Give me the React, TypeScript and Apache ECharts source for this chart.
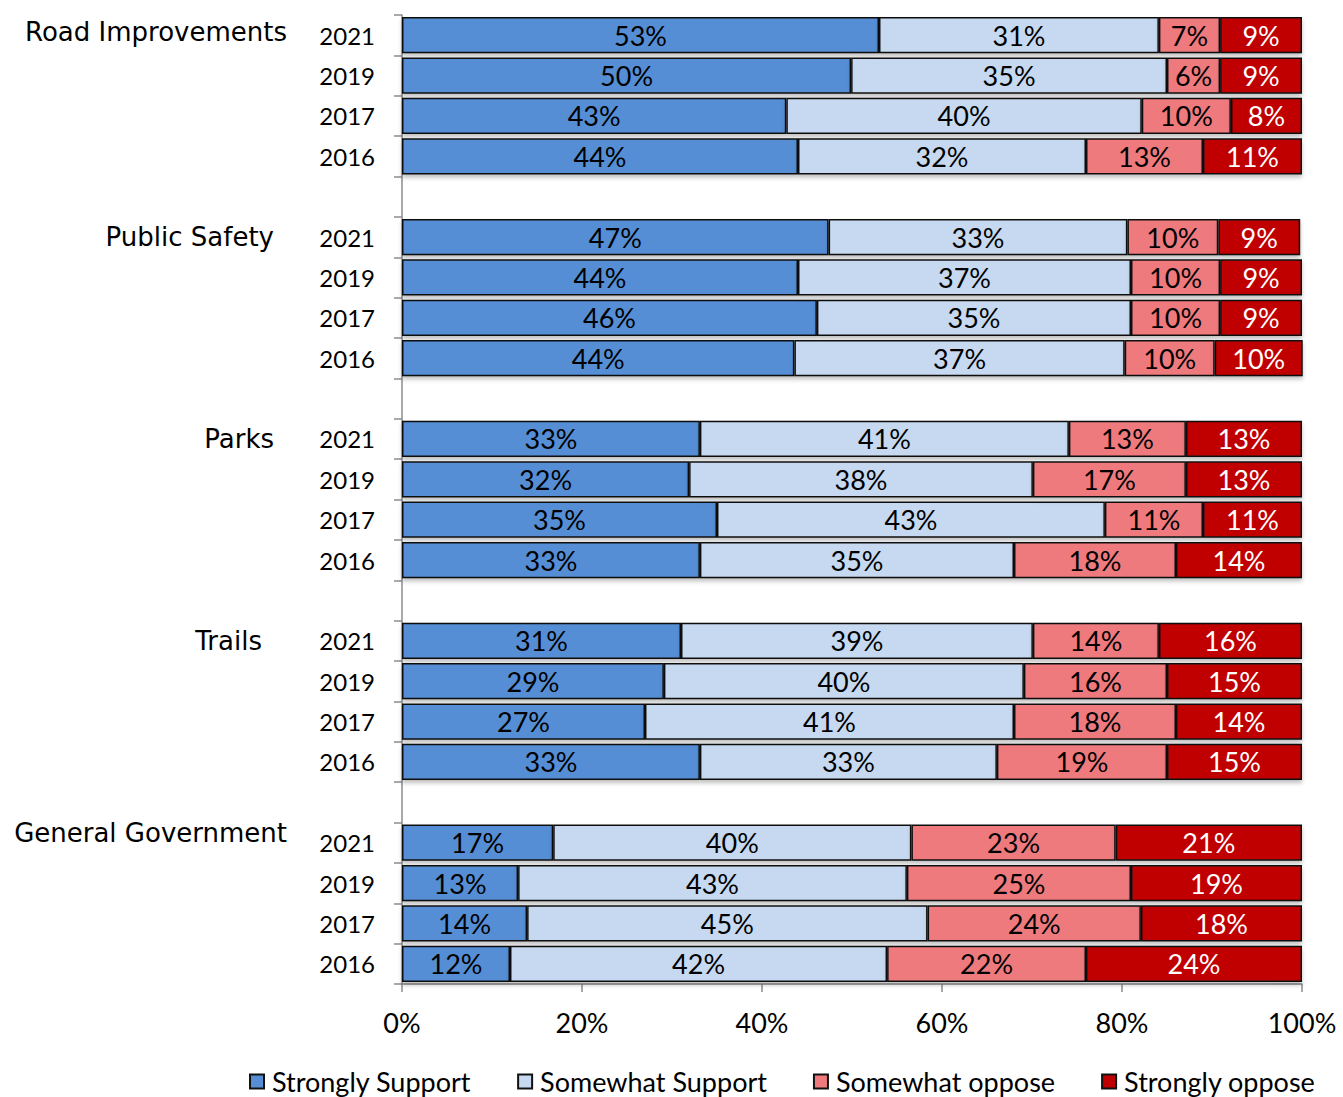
import React, { useEffect, useRef } from "react";
import * as echarts from "echarts";

const groups = ["Road Improvements", "Public Safety", "Parks", "Trails", "General Government"];
const years = ["2021", "2019", "2017", "2016"];
const seriesNames = ["Strongly Support", "Somewhat Support", "Somewhat oppose", "Strongly oppose"];

// values per group (2021, 2019, 2017, 2016)
const stronglySupport = [
  53.0, 49.9, 42.7, 44.0,
  47.4, 44.0, 46.1, 43.6,
  33.1, 31.9, 35.0, 33.1,
  31.0, 29.1, 27.0, 33.1,
  16.8, 12.9, 13.9, 12.0,
];
const somewhatSupport = [
  31.1, 35.1, 39.5, 32.0,
  33.2, 37.0, 34.9, 36.7,
  41.0, 38.2, 43.1, 34.9,
  39.1, 40.0, 41.0, 33.0,
  39.8, 43.2, 44.5, 41.9,
];
const somewhatOppose = [
  6.8, 5.9, 9.9, 13.0,
  10.1, 9.9, 9.9, 10.0,
  13.0, 17.0, 10.9, 18.0,
  14.0, 15.9, 18.0, 18.9,
  22.7, 24.9, 23.7, 22.1,
];
const stronglyOppose = [
  9.1, 9.1, 7.9, 11.0,
  9.1, 9.1, 9.1, 9.8,
  12.9, 12.9, 11.0, 14.0,
  15.9, 15.0, 14.0, 15.0,
  20.7, 19.0, 17.9, 24.0,
];
const xTicks = [0, 20, 40, 60, 80, 100];

const colors = ["#558ED5", "#C6D9F1", "#EE7A7E", "#C00000"];
const labelColors = ["#000000", "#000000", "#000000", "#FFFFFF"];

function buildCategories(): string[] {
  const out: string[] = [];
  groups.forEach((g, gi) => {
    if (gi > 0) out.push("gap" + gi);
    years.forEach((y) => out.push(g + "|" + y));
  });
  return out;
}

function withGaps(vals: number[]): (number | null)[] {
  const out: (number | null)[] = [];
  groups.forEach((_, gi) => {
    if (gi > 0) out.push(null);
    years.forEach((__, yi) => out.push(vals[gi * years.length + yi]));
  });
  return out;
}

const FONT = "Lato";
const GFONT = "DejaVu Sans";

export default function App() {
  const ref = useRef<HTMLDivElement>(null);
  useEffect(() => {
    if (!ref.current) return;
    const chart = echarts.init(ref.current, undefined, { renderer: "svg" });
    const categories = buildCategories();
    const allValues = [stronglySupport, somewhatSupport, somewhatOppose, stronglyOppose];
    const groupStyleKey: Record<string, string> = {
      "Road Improvements": "a",
      "Public Safety": "b",
      Parks: "b",
      Trails: "c",
      "General Government": "d",
    };
    const gBase = { fontFamily: GFONT, fontSize: 26, color: "#000" };
    const option: any = {
      animation: false,
      textStyle: { fontFamily: FONT },
      grid: { left: 402, right: 41, top: 15, bottom: 113 },
      legend: {
        bottom: -3,
        left: 244,
        itemWidth: 14,
        itemHeight: 14,
        itemGap: 46,
        icon: "rect",
        textStyle: { fontFamily: FONT, fontSize: 27, color: "#000", padding: [0, 0, 0, 3] },
        data: seriesNames,
      },
      xAxis: {
        type: "value",
        min: 0,
        max: 100,
        interval: 20,
        splitLine: { show: false },
        axisLine: { show: true, lineStyle: { color: "#8c8c8c", width: 1.5 } },
        axisTick: { show: true, length: 8, lineStyle: { color: "#8c8c8c", width: 1.5 } },
        axisLabel: {
          formatter: (v: number) => (xTicks.includes(v) ? v + "%" : ""),
          fontFamily: FONT,
          fontSize: 27,
          color: "#000",
          margin: 25,
        },
      },
      yAxis: [
        {
          type: "category",
          inverse: true,
          data: categories,
          axisLine: { show: true, lineStyle: { color: "#8c8c8c", width: 1.5 } },
          axisTick: { show: true, interval: 0, length: 8, lineStyle: { color: "#8c8c8c", width: 1.5 } },
          axisLabel: {
            interval: 0,
            formatter: (v: string) => (v.includes("|") ? v.split("|")[1] : ""),
            fontFamily: FONT,
            fontSize: 24,
            color: "#000",
            margin: 27,
          },
        },
        {
          type: "category",
          inverse: true,
          position: "left",
          data: categories,
          axisLine: { show: false },
          axisTick: { show: false },
          axisLabel: {
            interval: 0,
            formatter: (v: string) => {
              if (!v.endsWith("|" + years[0])) return "";
              const g = v.split("|")[0];
              return "{" + groupStyleKey[g] + "|" + g + "}";
            },
            margin: 115,
            rich: {
              a: { ...gBase, padding: [0, 0, 6, 0] },
              b: { ...gBase, padding: [0, 13, 0, 0] },
              c: { ...gBase, padding: [0, 25, 0, 0] },
              d: { ...gBase, padding: [0, 0, 20, 0] },
            },
          },
        },
      ],
      series: seriesNames.map((name, i) => ({
        name,
        type: "bar",
        stack: "total",
        yAxisIndex: 0,
        barCategoryGap: "10%",
        data: withGaps(allValues[i]),
        itemStyle: {
          color: colors[i],
          borderColor: "#111",
          borderWidth: 1.5,
          shadowColor: "rgba(0,0,0,0.25)",
          shadowBlur: 4,
          shadowOffsetY: 3,
        },
        label: {
          show: true,
          position: "inside",
          fontFamily: FONT,
          fontSize: 27,
          color: labelColors[i],
          formatter: (p: any) => (p.value == null ? "" : Math.round(p.value) + "%"),
        },
      })),
    };
    chart.setOption(option);
    return () => chart.dispose();
  }, []);
  return <div ref={ref} style={{ width: 1343, height: 1097, position: "absolute", left: 0, top: 0 }} />;
}
